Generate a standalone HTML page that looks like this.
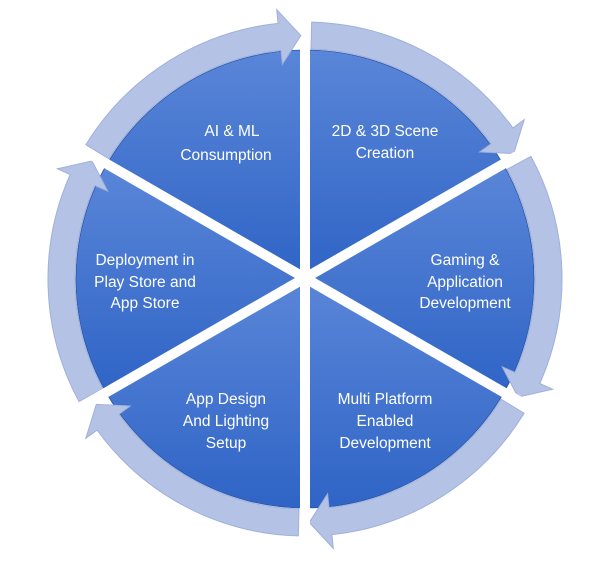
<!DOCTYPE html>
<html><head><meta charset="utf-8"><style>
html,body{margin:0;padding:0;background:#fff;width:611px;height:563px;overflow:hidden}
svg text{font-family:"Liberation Sans",sans-serif;font-size:15.5px;fill:#fff;text-anchor:middle}
</style></head><body>
<svg id="s" width="611" height="563" viewBox="0 0 611 563" xmlns="http://www.w3.org/2000/svg">
<defs>
<linearGradient id="g" x1="0" y1="0" x2="0" y2="1">
<stop offset="0" stop-color="#5a86d8"/><stop offset="1" stop-color="#2f64c6"/>
</linearGradient>
</defs>
<g id="slices"></g>
<g id="arrows"></g>
<line x1="305" y1="278" x2="305" y2="40" stroke="#fff" stroke-width="10"/>
<line x1="305" y1="278" x2="305" y2="540" stroke="#fff" stroke-width="10"/>
<line x1="305" y1="278" x2="550" y2="137" stroke="#fff" stroke-width="10"/>
<line x1="305" y1="278" x2="60" y2="137" stroke="#fff" stroke-width="10"/>
<line x1="305" y1="278" x2="550" y2="419" stroke="#fff" stroke-width="10"/>
<line x1="305" y1="278" x2="60" y2="419" stroke="#fff" stroke-width="10"/>
<text x="232" y="136">AI &amp; ML</text><text x="226" y="160">Consumption</text>
<text x="385" y="136">2D &amp; 3D Scene</text><text x="385" y="158">Creation</text>
<text x="465" y="265">Gaming &amp;</text><text x="465" y="287">Application</text><text x="465" y="308">Development</text>
<text x="385" y="404">Multi Platform</text><text x="385" y="426">Enabled</text><text x="385" y="448">Development</text>
<text x="226" y="404">App Design</text><text x="226" y="426">And Lighting</text><text x="226" y="448">Setup</text>
<text x="145" y="265">Deployment in</text><text x="145" y="287">Play Store and</text><text x="145" y="308">App Store</text>
</svg>
<script>
var cx=305,cy=279,R=229,ri=230,ro=257,rm=(ri+ro)/2;
function p(r,a){a=a*Math.PI/180;return (cx+r*Math.cos(a)).toFixed(1)+","+(cy+r*Math.sin(a)).toFixed(1);}
var sl="",ar="";
for(var i=0;i<6;i++){
 var a=-90+60*i,b=a+60;
 sl+='<path d="M'+cx+','+cy+' L'+p(R,a)+' A'+R+','+R+' 0 0 1 '+p(R,b)+' Z" fill="url(#g)" stroke="#2a56a8" stroke-width="0.8"/>';
 var s=a+1.5,h=b-6,t=b-1;
 ar+='<path d="M'+p(ro,s)+' A'+ro+','+ro+' 0 0 1 '+p(ro,h)+' L'+p(ro+14,h)+' L'+p(rm,t)+' L'+p(ri-14,h)+' L'+p(ri,h)+' A'+ri+','+ri+' 0 0 0 '+p(ri,s)+' Z" fill="#b4c2e6" stroke="#9fb0da" stroke-width="1"/>';
}
document.getElementById("slices").innerHTML=sl;
document.getElementById("arrows").innerHTML=ar;
</script>
</body></html>
